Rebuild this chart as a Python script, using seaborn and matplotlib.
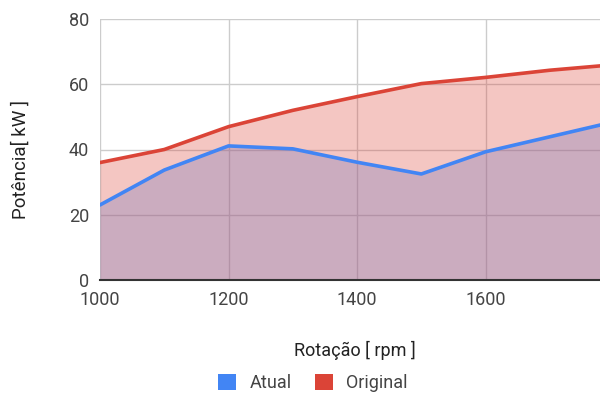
import matplotlib
matplotlib.use("Agg")
import matplotlib.pyplot as plt
from matplotlib.patches import Patch
import seaborn as sns
import pandas as pd

rpm = [1000, 1100, 1200, 1300, 1400, 1500, 1600, 1700, 1800]
original = [36, 40, 47, 52, 56.2, 60.2, 62.1, 64.3, 66]
atual = [23, 33.7, 41.1, 40.2, 36.1, 32.5, 39.3, 43.9, 48.5]
series_names = ["Atual", "Original"]
x_ticks = [1000, 1200, 1400, 1600]
y_ticks = [0, 20, 40, 60, 80]

BLUE = "#4285f4"
RED = "#db4437"
TXT = "#444444"

sns.set_style("white")
plt.rcParams["font.family"] = ["Roboto", "DejaVu Sans"]

df = pd.DataFrame({"rpm": rpm * 2,
                   "power": atual + original,
                   "serie": [series_names[0]] * len(rpm) + [series_names[1]] * len(rpm)})

fig = plt.figure(figsize=(6, 3.96), dpi=100)
ax = fig.add_axes([100 / 600, (396 - 280) / 396, 500 / 600, 261 / 396])

ax.fill_between(rpm, 0, atual, color=BLUE, alpha=0.3, linewidth=0, zorder=2)
ax.fill_between(rpm, 0, original, color=RED, alpha=0.3, linewidth=0, zorder=3)
sns.lineplot(data=df, x="rpm", y="power", hue="serie", palette={"Atual": BLUE, "Original": RED},
             linewidth=2.6, ax=ax, legend=False, zorder=4)

ax.set_xlim(1000, 1778)
ax.set_ylim(0, 80)
ax.set_xticks(x_ticks)
ax.set_yticks(y_ticks)
ax.set_xticklabels([str(v) for v in x_ticks], fontsize=13, color=TXT)
ax.set_yticklabels([str(v) for v in y_ticks], fontsize=13, color=TXT)
ax.tick_params(axis="both", length=0, pad=8)
ax.grid(True, color="#cccccc", linewidth=1, zorder=0)
ax.set_axisbelow(True)
for s in ["top", "right", "left"]:
    ax.spines[s].set_visible(False)
ax.spines["bottom"].set_color("#333333")
ax.spines["bottom"].set_linewidth(1.5)
ax.spines["bottom"].set_zorder(5)

ax.set_xlabel("")
ax.set_ylabel("")
fig.text(355 / 600, 1 - 350 / 396, "Rotação [ rpm ]", ha="center", va="center", fontsize=13, color="#222222")
fig.text(21 / 600, 1 - 160 / 396, "Potência[ kW ]", ha="center", va="center", rotation=90, fontsize=13.5, color="#222222")

handles = [Patch(facecolor=BLUE, edgecolor="none"), Patch(facecolor=RED, edgecolor="none")]
fig.legend(handles, series_names, loc="center", bbox_to_anchor=(313 / 600, 1 - 383 / 396), ncol=2,
           frameon=False, fontsize=13, labelcolor=TXT, handlelength=1.0, handleheight=1.0,
           handletextpad=0.75, columnspacing=1.25)

fig.savefig("out.png", dpi=100)
